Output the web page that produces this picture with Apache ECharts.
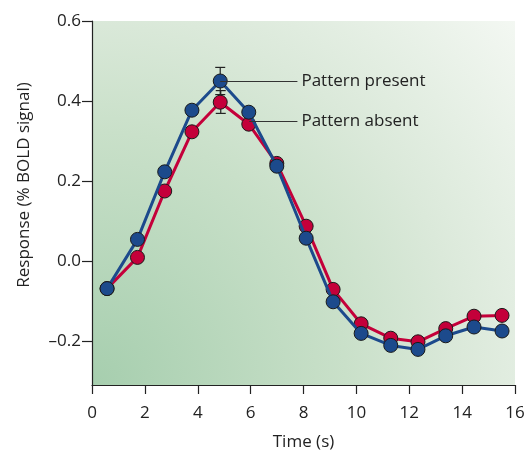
<!DOCTYPE html>
<html><head><meta charset="utf-8">
<script src="https://cdn.jsdelivr.net/npm/echarts@6/dist/echarts.min.js"></script>
<style>html,body{margin:0;padding:0;background:#fff}#c{width:524px;height:453px}</style>
</head><body><div id="c"></div>
<script>
const times = [0.57, 1.72, 2.75, 3.78, 4.85, 5.93, 6.99, 8.1, 9.12, 10.18, 11.3, 12.33, 13.38, 14.45, 15.51];
const present = [-0.069, 0.054, 0.223, 0.377, 0.45, 0.372, 0.237, 0.057, -0.102, -0.181, -0.211, -0.221, -0.187, -0.165, -0.175];
const absent = [-0.069, 0.009, 0.175, 0.323, 0.397, 0.342, 0.244, 0.087, -0.071, -0.157, -0.193, -0.202, -0.169, -0.138, -0.136];
const errPresent = [[4.85, 0.416, 0.484]];
const errAbsent = [[4.87, 0.369, 0.426]];
const yTicks = [-0.2, 0, 0.2, 0.4, 0.6];
const xTicks = [0, 2, 4, 6, 8, 10, 12, 14, 16];
const labelPresent = 'Pattern present';
const labelAbsent = 'Pattern absent';

const FONT = '"Open Sans", "DejaVu Sans", sans-serif';
const BLUE = '#1c4a8c';
const RED = '#c4003a';

function pairs(xs, ys) { return xs.map((x, i) => [x, ys[i]]); }

function errSeries(data) {
  return {
    type: 'custom', z: 1, silent: true,
    data: data,
    renderItem: function (params, api) {
      const x = api.value(0);
      const lo = api.coord([x, api.value(1)]);
      const hi = api.coord([x, api.value(2)]);
      const w = 5;
      const st = { stroke: '#222', lineWidth: 1.2 };
      return { type: 'group', children: [
        { type: 'line', shape: { x1: lo[0], y1: lo[1], x2: hi[0], y2: hi[1] }, style: st },
        { type: 'line', shape: { x1: lo[0] - w, y1: lo[1], x2: lo[0] + w, y2: lo[1] }, style: st },
        { type: 'line', shape: { x1: hi[0] - w, y1: hi[1], x2: hi[0] + w, y2: hi[1] }, style: st }
      ]};
    }
  };
}

function lineSeries(name, ys, color, z, mark) {
  return {
    type: 'line', name: name, z: z,
    data: pairs(times, ys),
    symbol: 'circle', symbolSize: 14,
    lineStyle: { color: color, width: 3 },
    itemStyle: { color: color, borderColor: '#1a1a1a', borderWidth: 1 },
    emphasis: { disabled: true },
    animation: false,
    markLine: {
      silent: true, symbol: 'none', animation: false,
      lineStyle: { color: '#333', width: 1.2, type: 'solid' },
      label: { show: true, position: 'end', distance: 4, formatter: name,
               fontFamily: FONT, fontSize: 17, color: '#222' },
      data: [[{ coord: mark[0] }, { coord: mark[1] }]]
    }
  };
}

const chart = echarts.init(document.getElementById('c'));
chart.setOption({
  backgroundColor: '#fff',
  animation: false,
  grid: {
    left: 92, right: 9, top: 21, bottom: 68, show: true, borderWidth: 0,
    outerBoundsMode: 'none', containLabel: false,
    backgroundColor: {
      type: 'radial', x: 0, y: 1, r: 1.55,
      colorStops: [
        { offset: 0, color: '#a6ceae' },
        { offset: 0.45, color: '#c9e0c9' },
        { offset: 0.66, color: '#dbe9da' },
        { offset: 1, color: '#f4f8f3' }
      ]
    }
  },
  xAxis: {
    type: 'value', min: 0, max: 16, interval: 2,
    name: 'Time (s)', nameLocation: 'middle', nameGap: 49,
    nameTextStyle: { fontFamily: FONT, fontSize: 17, color: '#222' },
    axisLine: { onZero: false, lineStyle: { color: '#222', width: 1.2 } },
    axisTick: { length: 9, lineStyle: { color: '#222', width: 1.2 } },
    axisLabel: { margin: 20, fontFamily: FONT, fontSize: 17, color: '#222',
                 customValues: xTicks },
    splitLine: { show: false }
  },
  yAxis: {
    type: 'value', min: -0.31, max: 0.6,
    axisLine: { show: true, onZero: false, lineStyle: { color: '#222', width: 1.2 } },
    axisTick: { show: true, length: 10, customValues: yTicks, lineStyle: { color: '#222', width: 1.2 } },
    axisLabel: { margin: 11, fontFamily: FONT, fontSize: 17, color: '#222',
                 customValues: yTicks,
                 formatter: v => (v < 0 ? '\u2013' + Math.abs(v).toFixed(1) : v.toFixed(1)) },
    splitLine: { show: false }
  },
  graphic: [{
    type: 'text', x: 24, y: 185, rotation: Math.PI / 2,
    style: { text: 'Response (% BOLD signal)', fontFamily: FONT, fontSize: 17, fill: '#222',
             align: 'center', verticalAlign: 'middle' }
  }],
  series: [
    errSeries(errAbsent),
    errSeries(errPresent),
    lineSeries(labelAbsent, absent, RED, 2, [[5.95, 0.35], [7.77, 0.35]]),
    lineSeries(labelPresent, present, BLUE, 3, [[4.85, 0.45], [7.77, 0.45]])
  ]
});
</script></body></html>
